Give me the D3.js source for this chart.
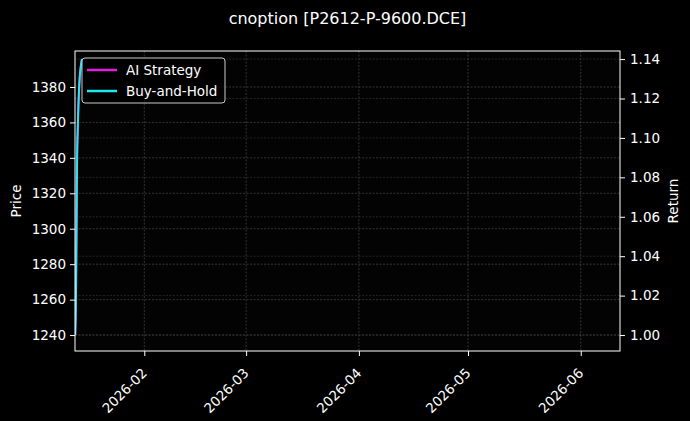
<!DOCTYPE html>
<html>
<head>
<meta charset="utf-8">
<script src="https://cdn.jsdelivr.net/npm/d3@7"></script>
<style>
  body { margin: 0; background: #000; }
  svg { display: block; font-family: "DejaVu Sans", sans-serif; }
</style>
</head>
<body>
<div id="chart"></div>
<script>
// data
const times = ["2026-01-13T00:00", "2026-01-13T05:00", "2026-01-13T09:00", "2026-01-13T12:00",
  "2026-01-13T18:00", "2026-01-14T03:00", "2026-01-14T21:00"];
const aiStrategy = [1.000, 1.018, 1.053, 1.086, 1.107, 1.127, 1.140];
const buyAndHold = [1.000, 1.018, 1.053, 1.086, 1.107, 1.127, 1.140];
const priceTicks = [1240, 1260, 1280, 1300, 1320, 1340, 1360, 1380];
const returnTicks = [1.00, 1.02, 1.04, 1.06, 1.08, 1.10, 1.12, 1.14];
const dateTicks = ["2026-02-01", "2026-03-01", "2026-04-01", "2026-05-01", "2026-06-01"];
const seriesNames = ["AI Strategy", "Buy-and-Hold"];
const seriesColors = ["#e01ee0", "#1ee8f0"];

var margin = { top: 51, right: 70, bottom: 70, left: 75 },
  width = 690 - margin.left - margin.right,
  height = 421 - margin.top - margin.bottom;

var parse = d3.utcParse("%Y-%m-%dT%H:%M");
var parseDay = d3.utcParse("%Y-%m-%d");

var x = d3
  .scaleUtc()
  .domain([parse("2026-01-12T22:50"), parse("2026-06-11T19:00")])
  .range([0, width]);

var yPrice = d3.scaleLinear().domain([1231, 1400.3]).range([height, 0]);
var yRet = d3.scaleLinear().domain([0.9919, 1.1441]).range([height, 0]);

var svg = d3
  .select("#chart")
  .append("svg")
  .attr("width", 690)
  .attr("height", 421);

svg.append("rect").attr("width", 690).attr("height", 421).attr("fill", "#000");

var g = svg
  .append("g")
  .attr("transform", "translate(" + margin.left + "," + margin.top + ")");

g.append("rect").attr("width", width).attr("height", height).attr("fill", "#030303");

// grids
g.append("g")
  .selectAll("line")
  .data(dateTicks)
  .enter()
  .append("line")
  .attr("x1", (d) => x(parseDay(d)))
  .attr("x2", (d) => x(parseDay(d)))
  .attr("y1", 0)
  .attr("y2", height)
  .attr("stroke", "#555")
  .attr("stroke-width", 0.6)
  .attr("stroke-dasharray", "2,1.5");

g.append("g")
  .selectAll("line")
  .data(priceTicks)
  .enter()
  .append("line")
  .attr("x1", 0)
  .attr("x2", width)
  .attr("y1", (d) => yPrice(d))
  .attr("y2", (d) => yPrice(d))
  .attr("stroke", "#555")
  .attr("stroke-width", 0.6)
  .attr("stroke-dasharray", "2,1.5");

g.append("g")
  .selectAll("line")
  .data(returnTicks)
  .enter()
  .append("line")
  .attr("x1", 0)
  .attr("x2", width)
  .attr("y1", (d) => yRet(d))
  .attr("y2", (d) => yRet(d))
  .attr("stroke", "#3a3a3a")
  .attr("stroke-width", 0.6)
  .attr("stroke-dasharray", "2,1.5");

// lines
g.append("clipPath").attr("id", "clip").append("rect").attr("width", width).attr("height", height);

var line = d3
  .line()
  .x((d) => x(parse(d.t)))
  .y((d) => yRet(d.v))
  .curve(d3.curveMonotoneX);

[aiStrategy, buyAndHold].forEach((vals, i) => {
  g.append("path")
    .datum(vals.map((v, k) => ({ t: times[k], v: v })))
    .attr("clip-path", "url(#clip)")
    .attr("fill", "none")
    .attr("stroke", seriesColors[i])
    .attr("stroke-width", 2)
    .attr("d", line);
});

// axes
var xAxis = g
  .append("g")
  .attr("transform", "translate(0," + height + ")")
  .call(
    d3.axisBottom(x)
      .tickValues(dateTicks.map(parseDay))
      .tickFormat(d3.utcFormat("%Y-%m"))
      .tickSize(5)
  );
xAxis
  .selectAll("text")
  .style("text-anchor", "end")
  .attr("x", 0)
  .attr("y", 0)
  .attr("dy", 0)
  .attr("transform", "translate(3,23) rotate(-45)");

g.append("g")
  .call(d3.axisLeft(yPrice).tickValues(priceTicks).tickFormat(d3.format("d")).tickSize(5).tickPadding(4));

g.append("g")
  .attr("transform", "translate(" + width + ",0)")
  .call(
    d3.axisRight(yRet).tickValues(returnTicks).tickFormat(d3.format(".2f")).tickSize(5).tickPadding(5)
  );

g.selectAll(".domain").remove();
g.selectAll(".tick line").attr("stroke", "#fff");
g.selectAll(".tick text").attr("fill", "#fff").style("font-size", "13.5px").style("font-family", "DejaVu Sans");

// frame on top
g.append("rect")
  .attr("width", width)
  .attr("height", height)
  .attr("fill", "none")
  .attr("stroke", "#fff")
  .attr("stroke-width", 1);

// labels
svg.append("text")
  .attr("x", margin.left + width / 2)
  .attr("y", 24)
  .attr("fill", "#fff")
  .attr("text-anchor", "middle")
  .style("font-size", "16px")
  .text("cnoption [P2612-P-9600.DCE]");

svg.append("text")
  .attr("transform", "translate(21," + (margin.top + height / 2) + ") rotate(-90)")
  .attr("fill", "#fff")
  .attr("text-anchor", "middle")
  .style("font-size", "13.5px")
  .text("Price");

svg.append("text")
  .attr("transform", "translate(678," + (margin.top + height / 2) + ") rotate(-90)")
  .attr("fill", "#fff")
  .attr("text-anchor", "middle")
  .style("font-size", "13.5px")
  .text("Return");

// legend
var legend = g.append("g").attr("transform", "translate(7,7)");
legend
  .append("rect")
  .attr("width", 143)
  .attr("height", 45)
  .attr("rx", 3)
  .attr("fill", "#000")
  .attr("fill-opacity", 0.8)
  .attr("stroke", "#ccc")
  .attr("stroke-width", 1);

seriesNames.forEach((name, i) => {
  legend
    .append("line")
    .attr("x1", 5)
    .attr("x2", 35)
    .attr("y1", 12 + i * 21)
    .attr("y2", 12 + i * 21)
    .attr("stroke", seriesColors[i])
    .attr("stroke-width", 2.5);
  legend
    .append("text")
    .attr("x", 44)
    .attr("y", 12 + i * 21)
    .attr("dy", "0.35em")
    .attr("fill", "#fff")
    .style("font-size", "13.5px")
    .text(name);
});
</script>
</body>
</html>
